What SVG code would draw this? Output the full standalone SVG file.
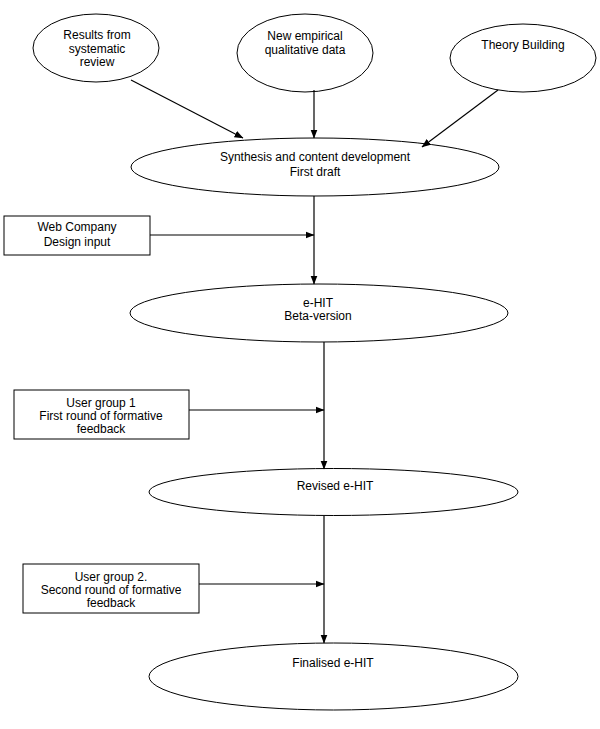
<svg xmlns="http://www.w3.org/2000/svg" width="600" height="729" viewBox="0 0 600 729">
<style>
.n{fill:#fff;stroke:#000;stroke-width:1}
.t{font-family:"Liberation Sans",Arial,sans-serif;font-size:12px;fill:#000;text-anchor:middle}
.c{stroke:#000;stroke-width:1.2;fill:none;marker-end:url(#ah)}
</style>
<defs>
<marker id="ah" markerWidth="9" markerHeight="8" refX="8.5" refY="4" orient="auto" markerUnits="userSpaceOnUse">
<path d="M0,0.5 L9,4 L0,7.5 Z" fill="#000"/>
</marker>
</defs>
<rect width="600" height="729" fill="#fff"/>
<g id="results">
<ellipse class="n" cx="96" cy="48" rx="63" ry="34"/>
<text class="t" x="97" y="39">Results from</text>
<text class="t" x="97" y="53">systematic</text>
<text class="t" x="97" y="66">review</text>
</g>
<g id="empirical">
<ellipse class="n" cx="305" cy="53" rx="68" ry="39"/>
<text class="t" x="305" y="40">New empirical</text>
<text class="t" x="305" y="54">qualitative data</text>
</g>
<g id="theory">
<ellipse class="n" cx="523" cy="58" rx="73" ry="34"/>
<text class="t" x="523" y="49">Theory Building</text>
</g>
<g id="synthesis">
<ellipse class="n" cx="315" cy="167" rx="184" ry="29"/>
<text class="t" x="315" y="161">Synthesis and content development</text>
<text class="t" x="315" y="176">First draft</text>
</g>
<g id="webcompany">
<rect class="n" x="4" y="216" width="146" height="39"/>
<text class="t" x="77" y="231">Web Company</text>
<text class="t" x="77" y="246">Design input</text>
</g>
<g id="beta">
<ellipse class="n" cx="319" cy="313" rx="189" ry="29"/>
<text class="t" x="318" y="307">e-HIT</text>
<text class="t" x="318" y="320">Beta-version</text>
</g>
<g id="usergroup1">
<rect class="n" x="14" y="390" width="175" height="49"/>
<text class="t" x="101" y="407">User group 1</text>
<text class="t" x="101" y="420">First round of formative</text>
<text class="t" x="101" y="433">feedback</text>
</g>
<g id="revised">
<ellipse class="n" cx="333.5" cy="492" rx="184.5" ry="23.5"/>
<text class="t" x="335" y="490">Revised e-HIT</text>
</g>
<g id="usergroup2">
<rect class="n" x="23" y="564" width="176" height="49"/>
<text class="t" x="111" y="581">User group 2.</text>
<text class="t" x="111" y="594">Second round of formative</text>
<text class="t" x="111" y="607">feedback</text>
</g>
<g id="finalised">
<ellipse class="n" cx="333.5" cy="676.5" rx="184.5" ry="33.5"/>
<text class="t" x="333" y="667">Finalised e-HIT</text>
</g>
<g id="connectors">
<line class="c" x1="131" y1="80" x2="243" y2="138"/>
<line class="c" x1="314" y1="90" x2="314" y2="138"/>
<line class="c" x1="498" y1="90" x2="422" y2="147"/>
<line class="c" x1="314" y1="196" x2="314" y2="284"/>
<line class="c" x1="150" y1="235" x2="314" y2="235"/>
<line class="c" x1="324" y1="342" x2="324" y2="469"/>
<line class="c" x1="189" y1="410" x2="324" y2="410"/>
<line class="c" x1="324" y1="516" x2="324" y2="643"/>
<line class="c" x1="199" y1="584" x2="324" y2="584"/>
</g>
</svg>
